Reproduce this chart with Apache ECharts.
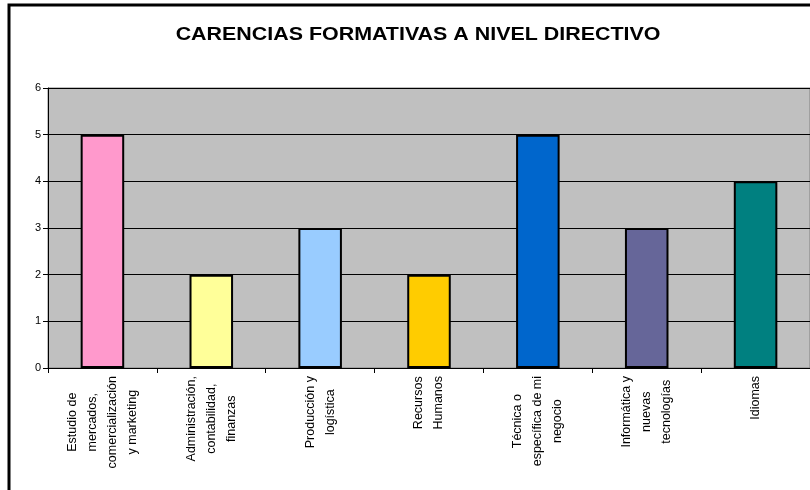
<!DOCTYPE html>
<html lang="es">
<head>
    <meta charset="UTF-8">
    <script src="https://cdn.jsdelivr.net/npm/echarts@6/dist/echarts.min.js"></script>
    <title>Carencias formativas</title>
</head>
<body style="margin:0;background:#fff;">
    <div id="main" style="width:810px;height:490px;"></div>
    <script>
        var categories = [
            'Estudio de\nmercados,\ncomercialización\ny marketing',
            'Administración,\ncontabilidad,\nfinanzas',
            'Producción y\nlogística',
            'Recursos\nHumanos',
            'Técnica o\nespecífica de mi\nnegocio',
            'Informática y\nnuevas\ntecnologías',
            'Idiomas'
        ];
        var values = [5, 2, 3, 2, 5, 3, 4];
        var colors = ['#ff99cc', '#ffff99', '#99ccff', '#ffcc00', '#0066cc', '#666699', '#008080'];

        var labelFont = '12.5px "Liberation Sans"';
        // measure the longest line so the centred lines can be pushed up against the axis
        var ctx = document.createElement('canvas').getContext('2d');
        ctx.font = labelFont;
        function blockWidth(txt) {
            return Math.max.apply(null, txt.split('\n').map(function (s) { return ctx.measureText(s).width; }));
        }

        var myChart = echarts.init(document.getElementById('main'));
        var option = {
            animation: false,
            graphic: [{
                type: 'rect',
                shape: { x: 9, y: 5, width: 900, height: 600 },
                style: { fill: 'none', stroke: '#000', lineWidth: 3 },
                z: 100
            }, {
                type: 'text',
                x: 418,
                y: 35,
                scaleX: 1.19,
                style: {
                    text: 'CARENCIAS FORMATIVAS A NIVEL DIRECTIVO',
                    font: 'bold 18px "Liberation Sans"',
                    fill: '#000',
                    textAlign: 'center',
                    textVerticalAlign: 'middle'
                }
            }],
            grid: { left: 48, top: 88, width: 763, height: 280, backgroundColor: '#c0c0c0', show: true, borderColor: '#808080', borderWidth: 1 },
            xAxis: {
                type: 'category',
                data: categories.map(function (c) {
                    return { value: c, textStyle: { align: 'center', padding: [0, blockWidth(c), 0, 0] } };
                }),
                axisLine: { lineStyle: { color: '#000', width: 1 } },
                axisTick: { show: true, length: 5, lineStyle: { color: '#000' } },
                axisLabel: {
                    rotate: 90,
                    margin: 8,
                    interval: 0,
                    color: '#000',
                    fontFamily: 'Liberation Sans',
                    fontSize: 12.5,
                    lineHeight: 20
                }
            },
            yAxis: {
                type: 'value',
                min: 0,
                max: 6,
                interval: 1,
                axisLine: { show: true, lineStyle: { color: '#000' } },
                axisTick: { show: true, length: 5, lineStyle: { color: '#000' } },
                axisLabel: { color: '#000', fontFamily: 'Liberation Sans', fontSize: 11, margin: 7 },
                splitLine: { lineStyle: { color: '#000', width: 1 } }
            },
            series: [{
                type: 'bar',
                barWidth: '40%',
                data: values.map(function (v, i) {
                    return { value: v, itemStyle: { color: colors[i] } };
                }),
                itemStyle: { borderColor: '#000', borderWidth: 2 }
            }]
        };
        myChart.setOption(option);
    </script>
</body>
</html>
